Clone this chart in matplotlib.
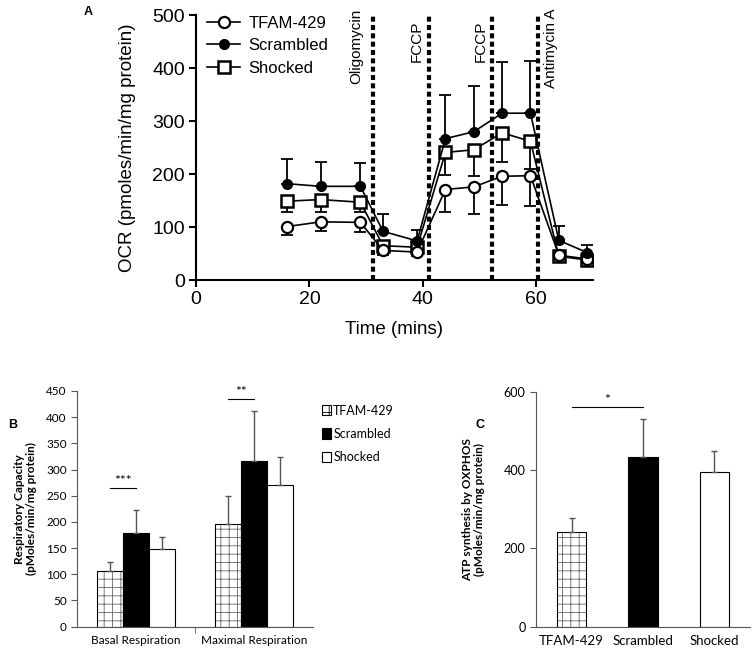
import numpy as np
import matplotlib.pyplot as plt
from matplotlib.patches import Patch

# panel A: OCR time course
time = [16, 22, 29, 33, 39, 44, 49, 54, 59, 64, 69]
tfam = [101, 110, 109, 56, 53, 171, 176, 196, 197, 47, 40]
tfam_err = [16, 18, 18, 8, 8, 43, 51, 54, 57, 5, 5]
scrambled = [182, 177, 177, 92, 74, 267, 280, 315, 315, 75, 52]
scrambled_err = [46, 45, 44, 32, 20, 82, 87, 97, 99, 28, 14]
shocked = [149, 152, 147, 65, 62, 241, 246, 278, 262, 45, 38]
shocked_err = [20, 24, 19, 8, 8, 42, 50, 55, 53, 6, 6]
injections = [31.3, 41.1, 52.2, 60.35]
injection_labels = ["Oligomycin", "FCCP", "FCCP", "Antimycin A"]

# panel B: respiratory capacity
groups = ["Basal Respiration", "Maximal Respiration"]
series = ["TFAM-429", "Scrambled", "Shocked"]
resp = {"TFAM-429": [106, 196], "Scrambled": [178, 316], "Shocked": [149, 270]}
resp_err = {"TFAM-429": [18, 53], "Scrambled": [44, 95], "Shocked": [22, 53]}

# panel C: ATP synthesis
atp = [243, 434, 396]
atp_err = [35, 96, 54]

plt.rcParams['hatch.linewidth'] = 0.6
fig = plt.figure(figsize=(7.53, 6.53), dpi=100)

# ---------- A ----------
axA = fig.add_axes([0.2603, 0.571, 0.527, 0.4058])
afont = 'Liberation Sans'
zeros = [0] * len(time)
axA.errorbar(time, tfam, yerr=[tfam_err, zeros], fmt='none', ecolor='black',
             elinewidth=1.3, capsize=4, capthick=1.3, zorder=2)
axA.errorbar(time, shocked, yerr=[shocked_err, zeros], fmt='none', ecolor='black',
             elinewidth=1.3, capsize=4, capthick=1.3, zorder=2)
axA.errorbar(time, scrambled, yerr=[zeros, scrambled_err], fmt='none', ecolor='black',
             elinewidth=1.3, capsize=4, capthick=1.3, zorder=2)
axA.plot(time, tfam, '-o', color='black', mfc='white', mec='black', ms=8, mew=1.6, lw=1.2,
         label='TFAM-429', zorder=4)
axA.plot(time, scrambled, '-o', color='black', mfc='black', ms=7, lw=1.2,
         label='Scrambled', zorder=5)
axA.plot(time, shocked, '-s', color='black', mfc='white', mec='black', ms=8, mew=1.8, lw=1.2,
         label='Shocked', zorder=3)

for xv in injections:
    axA.axvline(xv, color='black', lw=3, ls=(0, (1.2, 0.8)), zorder=1)
text_x = [28.3, 39.0, 50.3, 62.6]
text_top = [512, 490, 490, 512]
for xv, yv, lab in zip(text_x, text_top, injection_labels):
    axA.text(xv, yv, lab, rotation=90, ha='center', va='top', fontsize=11,
             family=afont, clip_on=False, zorder=6)

axA.set_xlim(0, 70)
axA.set_ylim(0, 500)
axA.set_xticks([0, 20, 40, 60])
axA.set_yticks([0, 100, 200, 300, 400, 500])
axA.spines['top'].set_visible(False)
axA.spines['right'].set_visible(False)
axA.spines['left'].set_linewidth(1.5)
axA.spines['bottom'].set_linewidth(1.5)
axA.tick_params(direction='out', width=1.5, length=5, labelsize=14, pad=3)
for t in axA.get_xticklabels() + axA.get_yticklabels():
    t.set_family(afont)
axA.set_xlabel('Time (mins)', fontsize=13.5, family=afont)
axA.xaxis.set_label_coords(0.5, -0.155)
axA.set_ylabel('OCR (pmoles/min/mg protein)', fontsize=13.5, family=afont)
axA.yaxis.set_label_coords(-0.15, 0.5)
axA.legend(loc='upper left', bbox_to_anchor=(-0.01, 1.055), frameon=False,
           prop={'family': afont, 'size': 12}, handlelength=2.0, handletextpad=0.5,
           labelspacing=0.45)
fig.text(84/753, 1 - 12/653, 'A', fontsize=9, fontweight='bold', family=afont, va='center')

# ---------- B ----------
bfont = 'Lato'
gray = '#555555'
hatchgray = '#666666'
axB = fig.add_axes([0.1023, 0.0403, 0.3134, 0.361])
w = 0.222
x = np.arange(len(groups))
fills = {"TFAM-429": 'none', "Scrambled": 'black', "Shocked": 'white'}


def draw_bar(ax, pos, vals, width, name):
    if name == "TFAM-429":
        ax.bar(pos, vals, width=width, facecolor='white', edgecolor=hatchgray,
               hatch='++', linewidth=0)
    ax.bar(pos, vals, width=width, facecolor=fills[name], edgecolor='black', linewidth=0.8)


for i, s in enumerate(series):
    pos = x + (i - 1) * w
    draw_bar(axB, pos, resp[s], w, s)
    axB.errorbar(pos, resp[s], yerr=[[0]*len(groups), resp_err[s]], fmt='none',
                 ecolor=gray, elinewidth=1.0, capsize=2.5, capthick=1.0)
axB.set_xlim(-0.5, 1.5)
axB.set_ylim(0, 450)
axB.set_yticks(np.arange(0, 451, 50))
axB.set_xticks(x)
axB.set_xticklabels(groups)
axB.set_xticks([0.5], minor=True)
axB.tick_params(axis='x', which='major', length=0, labelsize=8.5, pad=6)
axB.tick_params(axis='x', which='minor', length=4, color=gray, direction='out')
axB.tick_params(axis='y', labelsize=8.5, length=4, color=gray, direction='out')
for t in axB.get_xticklabels() + axB.get_yticklabels():
    t.set_family(bfont)
for sp in ['top', 'right']:
    axB.spines[sp].set_visible(False)
for sp in ['left', 'bottom']:
    axB.spines[sp].set_color(gray)
axB.set_ylabel('Respiratory Capacity\n(pMoles/min/mg protein)', fontsize=8.5,
               fontweight='bold', family=bfont, linespacing=1.1)
axB.yaxis.set_label_coords(-0.17, 0.5)
axB.plot([-w, 0], [264, 264], color='black', lw=0.8)
axB.text(-w/2, 266, '***', ha='center', va='bottom', fontsize=10, family=bfont)
axB.plot([1 - w, 1], [435, 435], color='black', lw=0.8)
axB.text(1 - w/2, 437, '**', ha='center', va='bottom', fontsize=10, family=bfont)

leg_handles = [Patch(facecolor='white', edgecolor='black', hatch='++', linewidth=0.8),
               Patch(facecolor='black', edgecolor='black', linewidth=0.8),
               Patch(facecolor='white', edgecolor='black', linewidth=0.8)]
axB.legend(leg_handles, series, loc='upper left', bbox_to_anchor=(0.99, 0.99), frameon=False,
           prop={'family': bfont, 'size': 9}, handlelength=0.7, handleheight=0.9,
           handletextpad=0.2, labelspacing=0.9)
fig.text(8/753, 1 - 425/653, 'B', fontsize=9, fontweight='bold', family=afont, va='center')

# ---------- C ----------
axC = fig.add_axes([0.7118, 0.0403, 0.2842, 0.3594])
xc = np.arange(len(series))
for i, s in enumerate(series):
    draw_bar(axC, [xc[i]], [atp[i]], 0.41, s)
axC.errorbar(xc, atp, yerr=[[0]*3, atp_err], fmt='none', ecolor=gray,
             elinewidth=1.0, capsize=2.5, capthick=1.0)
axC.set_xlim(-0.5, 2.5)
axC.set_ylim(0, 600)
axC.set_yticks([0, 200, 400, 600])
axC.set_xticks(xc)
axC.set_xticklabels(series)
axC.tick_params(axis='x', length=0, labelsize=9.5, pad=6)
axC.tick_params(axis='y', labelsize=9, length=4, color=gray, direction='out')
for t in axC.get_xticklabels() + axC.get_yticklabels():
    t.set_family(bfont)
for sp in ['top', 'right']:
    axC.spines[sp].set_visible(False)
for sp in ['left', 'bottom']:
    axC.spines[sp].set_color(gray)
axC.set_ylabel('ATP synthesis by OXPHOS\n(pMoles/min/mg protein)', fontsize=8.5,
               fontweight='bold', family=bfont, linespacing=1.1)
axC.yaxis.set_label_coords(-0.24, 0.5)
axC.plot([0, 1], [561, 561], color='black', lw=0.8)
axC.text(0.5, 565, '*', ha='center', va='bottom', fontsize=10, family=bfont)
fig.text(476/753, 1 - 425/653, 'C', fontsize=9, fontweight='bold', family=afont, va='center')

fig.savefig('out.png', dpi=100)
